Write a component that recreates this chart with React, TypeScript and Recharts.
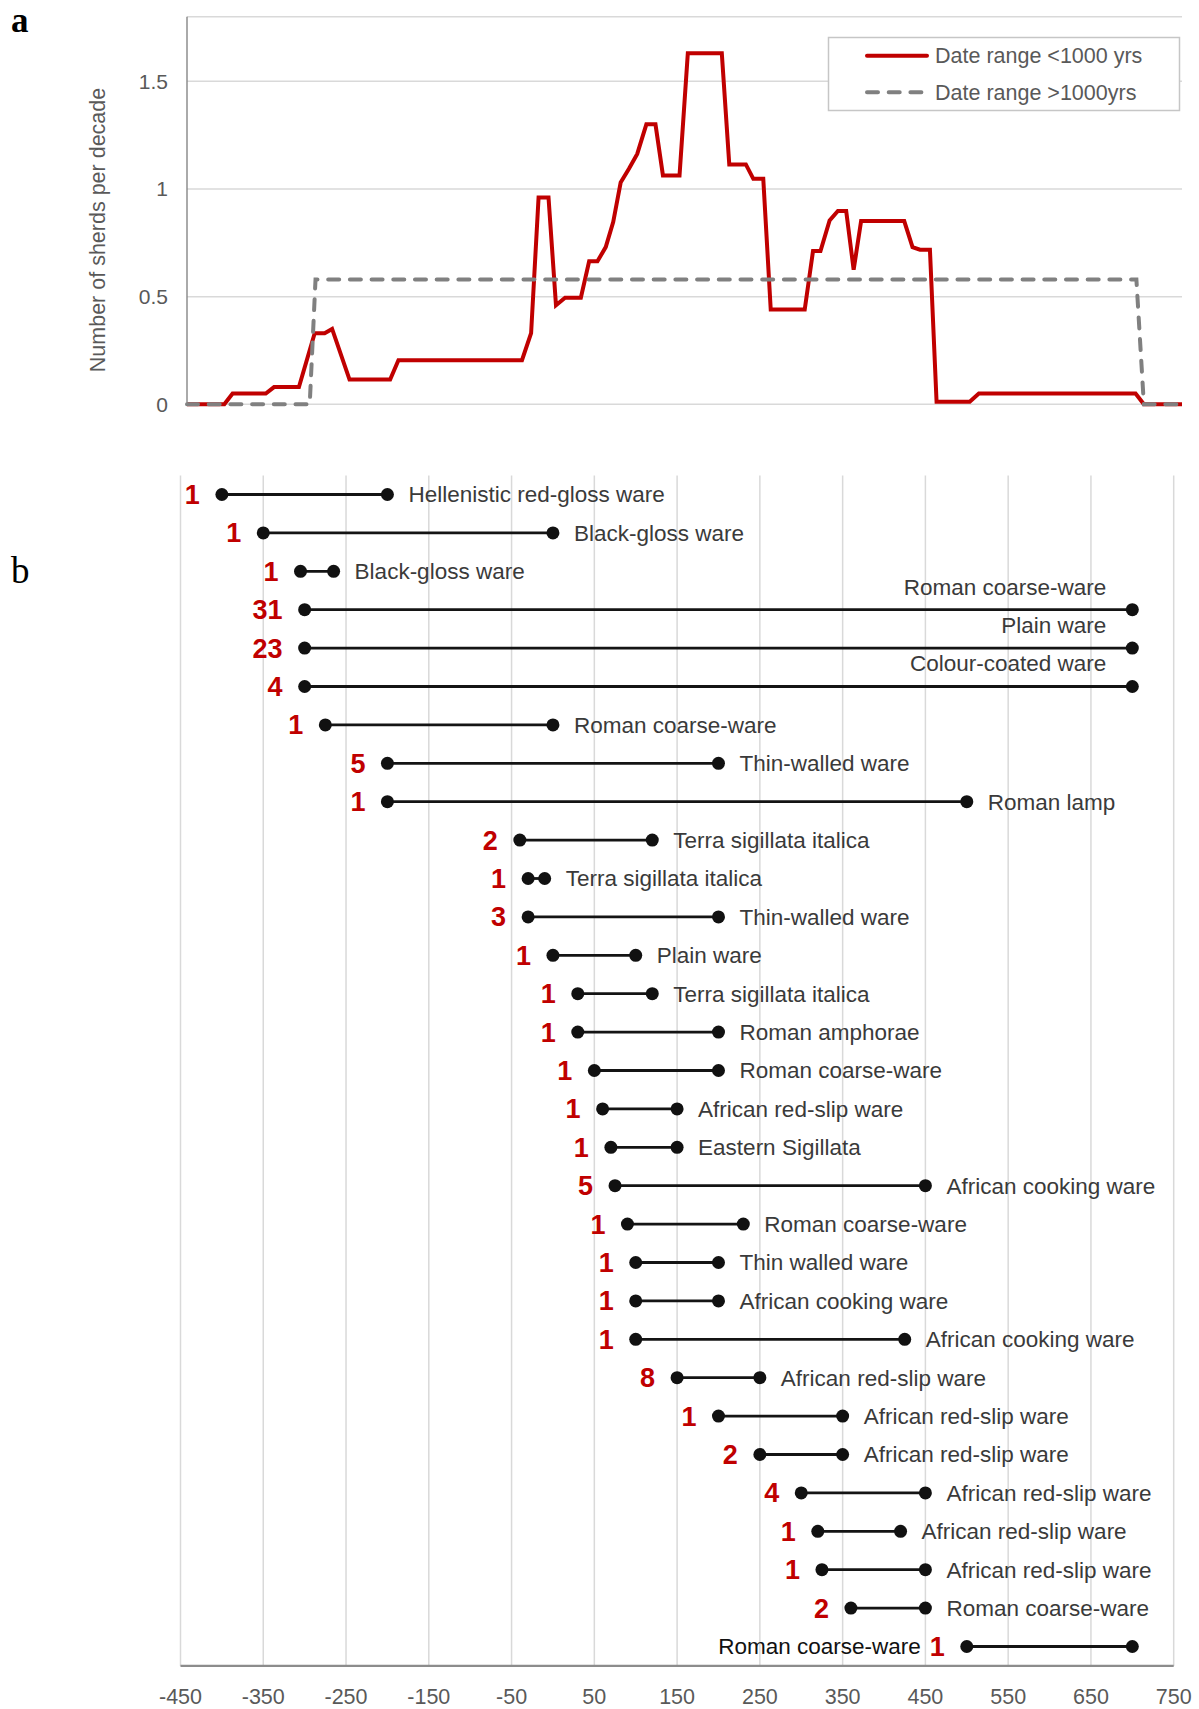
import React from 'react';
import { LineChart, Line, XAxis, YAxis, CartesianGrid, BarChart, Bar } from 'recharts';

// ---------- Panel a: sherds per decade ----------
const redYears = [-450, -405, -395, -355, -345, -315, -296, -284, -275, -254, -205, -195, -46, -35, -26, -14, -5, 6, 25, 35, 45, 55, 64, 73, 83, 93, 104, 115, 124, 144, 154, 195, 204, 224, 233, 245, 254, 295, 305, 314, 325, 335, 345, 354, 363, 415, 425, 434, 446, 454, 494, 505, 694, 704, 750];
const redValues = [0, 0, 0.05, 0.05, 0.08, 0.08, 0.33, 0.33, 0.35, 0.115, 0.115, 0.205, 0.205, 0.33, 0.96, 0.96, 0.46, 0.495, 0.495, 0.664, 0.664, 0.73, 0.846, 1.03, 1.094, 1.163, 1.3, 1.3, 1.063, 1.063, 1.63, 1.63, 1.114, 1.114, 1.047, 1.047, 0.44, 0.44, 0.712, 0.712, 0.854, 0.898, 0.898, 0.625, 0.851, 0.851, 0.73, 0.718, 0.718, 0.012, 0.012, 0.05, 0.05, 0, 0];
const grayYears = [-450, -302, -295, 695, 704, 750];
const grayValues = [0, 0, 0.58, 0.58, 0, 0];
const yTicksA = [0, 0.5, 1, 1.5];
const legendLabels = ['Date range <1000 yrs', 'Date range >1000yrs'];
const yTitleA = 'Number of sherds per decade';

// ---------- Panel b: date ranges of wares ----------
const wareNames = [
  'Hellenistic red-gloss ware', 'Black-gloss ware', 'Black-gloss ware', 'Roman coarse-ware', 'Plain ware',
  'Colour-coated ware', 'Roman coarse-ware', 'Thin-walled ware', 'Roman lamp', 'Terra sigillata italica',
  'Terra sigillata italica', 'Thin-walled ware', 'Plain ware', 'Terra sigillata italica', 'Roman amphorae',
  'Roman coarse-ware', 'African red-slip ware', 'Eastern Sigillata', 'African cooking ware', 'Roman coarse-ware',
  'Thin walled ware', 'African cooking ware', 'African cooking ware', 'African red-slip ware', 'African red-slip ware',
  'African red-slip ware', 'African red-slip ware', 'African red-slip ware', 'African red-slip ware', 'Roman coarse-ware',
  'Roman coarse-ware',
];
const sherdCounts = [1, 1, 1, 31, 23, 4, 1, 5, 1, 2, 1, 3, 1, 1, 1, 1, 1, 1, 5, 1, 1, 1, 1, 8, 1, 2, 4, 1, 1, 2, 1];
const startYears = [-400, -350, -305, -300, -300, -300, -275, -200, -200, -40, -30, -30, 0, 30, 30, 50, 60, 70, 75, 90, 100, 100, 100, 150, 200, 250, 300, 320, 325, 360, 500];
const endYears = [-200, 0, -265, 700, 700, 700, 0, 200, 500, 120, -10, 200, 100, 120, 200, 200, 150, 150, 450, 230, 200, 200, 425, 250, 350, 350, 450, 420, 450, 450, 700];
const xTicksB = [-450, -350, -250, -150, -50, 50, 150, 250, 350, 450, 550, 650, 750];

// label placement groups (layout, not data)
const NAME_ABOVE = new Set([3, 4, 5]);
const NAME_LEFT = new Set([30]);

const FONT = '"Liberation Sans", Arial, sans-serif';
const GRID = '#d9d9d9';
const TICK = '#595959';

const redData = redYears.map((year, i) => ({ year, value: redValues[i] }));
const grayData = grayYears.map((year, i) => ({ year, value: grayValues[i] }));
const rows = wareNames.map((name, i) => ({
  id: i,
  name,
  count: sherdCounts[i],
  range: [startYears[i], endYears[i]],
}));

const RangeShape = (props: any) => {
  const { x, y, width, height, payload } = props;
  const idx = payload.id;
  const cy = y + height / 2;
  const x1 = x;
  const x2 = x + width;
  let nameEl: React.ReactNode;
  if (NAME_ABOVE.has(idx)) {
    nameEl = (
      <text x={x2 - 26} y={cy - 23} dy="0.35em" textAnchor="end" fontSize={22.5} fill="#3a3a3a" fontFamily={FONT}>
        {payload.name}
      </text>
    );
  } else if (NAME_LEFT.has(idx)) {
    nameEl = (
      <text x={x1 - 46} y={cy} dy="0.35em" textAnchor="end" fontSize={22.5} fill="#111" fontFamily={FONT}>
        {payload.name}
      </text>
    );
  } else {
    nameEl = (
      <text x={x2 + 21} y={cy} dy="0.35em" textAnchor="start" fontSize={22.5} fill="#3a3a3a" fontFamily={FONT}>
        {payload.name}
      </text>
    );
  }
  return (
    <g>
      <line x1={x1} y1={cy} x2={x2} y2={cy} stroke="#141414" strokeWidth={2.8} />
      <circle cx={x1} cy={cy} r={6.5} fill="#111" />
      <circle cx={x2} cy={cy} r={6.5} fill="#111" />
      <text x={x1 - 22} y={cy} dy="0.35em" textAnchor="end" fontSize={27} fontWeight="bold" fill="#C00000" fontFamily={FONT}>
        {payload.count}
      </text>
      {nameEl}
    </g>
  );
};

const YTitle = () => (
  <text
    x={97.7}
    y={230}
    transform="rotate(-90, 97.7, 230)"
    textAnchor="middle"
    dy="0.35em"
    fontSize={21.5}
    fill={TICK}
    fontFamily={FONT}
  >
    {yTitleA}
  </text>
);

export default function App() {
  return (
    <div style={{ position: 'absolute', left: 0, top: 0, width: 1199, height: 1709, background: '#fff', fontFamily: FONT }}>
      <div style={{ position: 'absolute', left: 0, top: 0 }}>
        <LineChart width={1199} height={420} margin={{ top: 16.7, right: 17, bottom: 15.7, left: 127 }}>
          <CartesianGrid vertical={false} stroke={GRID} strokeWidth={1.5} />
          <XAxis type="number" dataKey="year" domain={[-450, 750]} hide allowDuplicatedCategory={false} />
          <YAxis
            type="number"
            domain={[0, 1.8]}
            ticks={yTicksA}
            width={60}
            tickLine={false}
            tickSize={0}
            tickMargin={19}
            axisLine={{ stroke: '#868686', strokeWidth: 1.4 }}
            tick={{ fontSize: 21, fill: TICK, fontFamily: FONT }}
            label={<YTitle />}
          />
          <Line
            data={redData}
            dataKey="value"
            type="linear"
            stroke="#C00000"
            strokeWidth={4}
            dot={false}
            activeDot={false}
            isAnimationActive={false}
          />
          <Line
            data={grayData}
            dataKey="value"
            type="linear"
            stroke="#808080"
            strokeWidth={4}
            strokeDasharray="11 10.7"
            strokeLinecap="round"
            dot={false}
            activeDot={false}
            isAnimationActive={false}
          />
        </LineChart>
      </div>

      <div style={{ position: 'absolute', left: 0, top: 440 }}>
        <BarChart
          width={1199}
          height={1269}
          data={rows}
          layout="vertical"
          barCategoryGap={0}
          margin={{ top: 35.5, right: 25.3, bottom: 3.1, left: 180.5 }}
        >
          <CartesianGrid horizontal={false} stroke={GRID} strokeWidth={1.5} />
          <XAxis
            type="number"
            domain={[-450, 750]}
            ticks={xTicksB}
            height={40}
            tickLine={false}
            tickSize={0}
            tickMargin={23}
            axisLine={{ stroke: '#8c8c8c', strokeWidth: 2.2 }}
            tick={{ fontSize: 21.5, fill: TICK, fontFamily: FONT }}
          />
          <YAxis type="category" dataKey="id" hide />
          <Bar dataKey="range" shape={<RangeShape />} isAnimationActive={false} />
        </BarChart>
      </div>

      <svg width={1199} height={1709} style={{ position: 'absolute', left: 0, top: 0, pointerEvents: 'none' }}>
        <text x={11} y={31.5} fontSize={35} fontWeight="bold" fontFamily='"Liberation Serif", "DejaVu Serif", serif' fill="#000">a</text>
        <text x={11} y={583} fontSize={37} fontFamily='"Liberation Serif", "DejaVu Serif", serif' fill="#000">b</text>

        <rect x={828.5} y={37.5} width={351} height={73} fill="#fff" stroke="#c6c6c6" strokeWidth={1.5} />
        <line x1={867} y1={55.7} x2={927} y2={55.7} stroke="#C00000" strokeWidth={4} strokeLinecap="round" />
        <line x1={867} y1={92.3} x2={927} y2={92.3} stroke="#808080" strokeWidth={4} strokeLinecap="round" strokeDasharray="11 10.7" />
        <text x={935} y={55.7} dy="0.35em" fontSize={21.5} fill={TICK} fontFamily={FONT}>{legendLabels[0]}</text>
        <text x={935} y={92.3} dy="0.35em" fontSize={21.5} fill={TICK} fontFamily={FONT}>{legendLabels[1]}</text>
      </svg>
    </div>
  );
}
